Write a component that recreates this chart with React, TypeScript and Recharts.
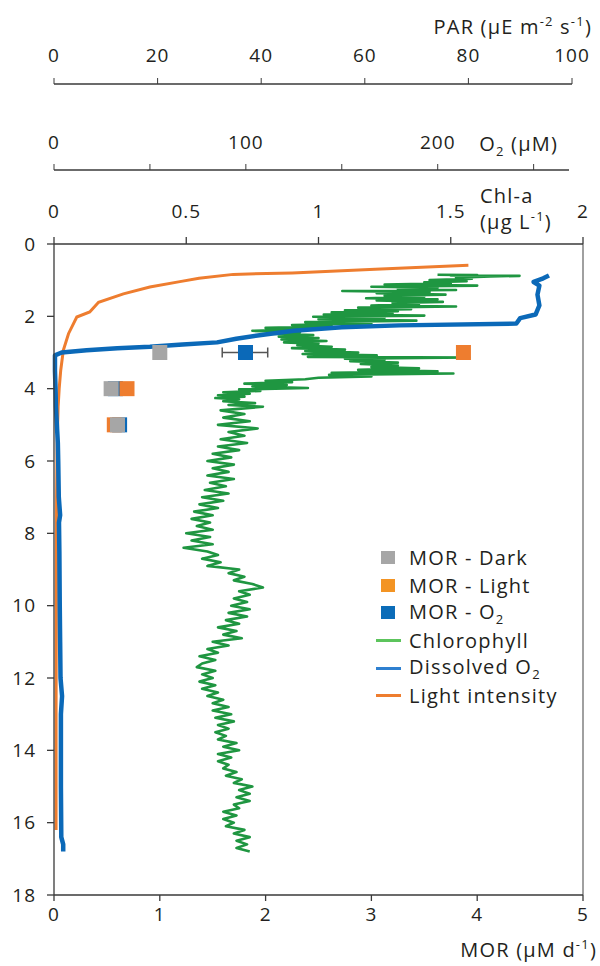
import React from 'react';
import {
  ComposedChart,
  ErrorBar,
  Legend,
  Line,
  ReferenceLine,
  Scatter,
  XAxis,
  YAxis,
} from 'recharts';

const FONT = '"Open Sans", "Noto Sans", sans-serif';
const INK = '#231f20';
const AXIS = '#3a3a3a';

const depthTicks = [0, 2, 4, 6, 8, 10, 12, 14, 16, 18];
const morTicks = [0, 1, 2, 3, 4, 5];
const parTicks = [0, 20, 40, 60, 80, 100];
const o2Ticks = [0, 50, 100, 150, 200, 250];
const o2Labelled = [0, 100, 200];
const chlTicks = [0, 0.5, 1, 1.5, 2];

// [depth (m), PAR]
const lightProfile: [number, number][] = [
  [0.59, 80], [0.7, 62], [0.8, 46], [0.84, 34.6], [0.95, 28], [1.04, 24.3],
  [1.19, 18.5], [1.38, 13.4], [1.61, 8.6], [1.88, 6.9], [2.02, 4.4], [2.48, 2.8],
  [2.94, 1.8], [3.49, 1.3], [4.0, 1.0], [4.5, 0.8], [5.5, 0.6], [7, 0.5],
  [10, 0.45], [13, 0.4], [16.2, 0.4],
];

// [depth (m), O2 (uM)]
const oxygenProfile: [number, number][] = [
  [0.87, 258], [0.95, 255], [1.05, 250], [1.15, 253], [1.4, 252], [1.7, 253],
  [1.95, 251], [2.05, 243], [2.2, 241], [2.25, 180], [2.3, 150], [2.4, 125],
  [2.5, 110], [2.62, 95], [2.72, 85], [2.78, 67], [2.84, 50], [2.88, 33],
  [2.94, 17], [3.0, 4], [3.08, 0.5], [3.5, 0.5], [4.0, 0.8], [4.5, 1.0],
  [5.0, 1.5], [5.5, 2.0], [6.0, 2.2], [7.0, 2.5], [7.5, 3.2], [7.7, 2.6],
  [8.5, 2.8], [10, 3.0], [11, 3.2], [12, 3.4], [12.5, 4.2], [13, 3.6],
  [14, 3.6], [15, 3.6], [16.4, 3.8], [16.6, 4.8], [16.8, 4.8],
];

// [depth (m), Chl-a (ug/L)]
const chlProfile: [number, number][] = [
  [0.85, 1.45], [0.86, 1.6], [0.87, 1.5], [0.88, 1.76], [0.9, 1.65], [0.93, 1.52],
  [0.96, 1.58], [1.0, 1.42], [1.03, 1.56], [1.06, 1.4], [1.09, 1.5], [1.12, 1.25],
  [1.15, 1.6], [1.18, 1.2], [1.21, 1.45], [1.24, 1.3], [1.27, 1.52], [1.3, 1.09],
  [1.33, 1.42], [1.36, 1.22], [1.4, 1.48], [1.43, 1.25], [1.46, 1.4], [1.5, 1.18],
  [1.53, 1.45], [1.56, 1.22], [1.6, 1.47], [1.63, 1.28], [1.66, 1.38], [1.7, 1.2],
  [1.73, 1.52], [1.76, 1.15], [1.8, 1.35], [1.83, 1.1], [1.86, 1.3], [1.89, 1.05],
  [1.92, 1.28], [1.95, 1.02], [1.98, 1.4], [2.01, 0.98], [2.04, 1.25], [2.08, 1.0],
  [2.12, 1.37], [2.16, 0.95], [2.2, 1.2], [2.24, 0.9], [2.28, 1.05], [2.32, 0.8],
  [2.36, 0.95], [2.4, 0.75], [2.44, 0.93], [2.48, 0.82], [2.52, 0.98], [2.56, 0.85],
  [2.6, 1.0], [2.64, 0.86], [2.68, 1.03], [2.72, 0.87], [2.76, 1.0], [2.8, 0.92],
  [2.84, 1.05], [2.88, 0.9], [2.92, 1.1], [2.96, 0.95], [3.0, 1.15], [3.04, 0.94],
  [3.08, 1.22], [3.12, 0.96], [3.14, 1.57], [3.17, 1.1], [3.2, 1.25], [3.24, 1.12],
  [3.28, 1.3], [3.32, 1.16], [3.36, 1.3], [3.4, 1.2], [3.44, 1.38], [3.48, 1.15],
  [3.52, 1.45], [3.56, 1.05], [3.58, 1.51], [3.62, 1.04], [3.66, 1.2], [3.7, 1.0],
  [3.74, 0.95], [3.78, 0.8], [3.82, 0.9], [3.86, 0.72], [3.9, 0.88], [3.94, 0.75],
  [3.98, 0.96], [4.02, 0.7], [4.06, 0.78], [4.1, 0.64], [4.14, 0.74], [4.18, 0.62],
  [4.22, 0.72], [4.26, 0.61], [4.3, 0.7], [4.35, 0.64], [4.4, 0.76], [4.45, 0.66],
  [4.5, 0.79], [4.6, 0.63], [4.7, 0.72], [4.8, 0.64], [4.9, 0.74], [5.0, 0.62],
  [5.1, 0.77], [5.2, 0.66], [5.3, 0.72], [5.4, 0.63], [5.5, 0.73], [5.6, 0.62],
  [5.7, 0.7], [5.8, 0.6], [5.9, 0.67], [6.0, 0.58], [6.1, 0.68], [6.2, 0.6],
  [6.3, 0.66], [6.4, 0.58], [6.5, 0.68], [6.6, 0.59], [6.7, 0.65], [6.8, 0.57],
  [6.9, 0.66], [7.0, 0.56], [7.1, 0.64], [7.2, 0.55], [7.3, 0.62], [7.4, 0.53],
  [7.5, 0.6], [7.6, 0.52], [7.7, 0.59], [7.8, 0.54], [7.9, 0.6], [8.0, 0.5],
  [8.1, 0.59], [8.2, 0.52], [8.3, 0.6], [8.4, 0.49], [8.5, 0.58], [8.6, 0.62],
  [8.7, 0.56], [8.8, 0.63], [8.9, 0.58], [9.0, 0.7], [9.1, 0.66], [9.2, 0.72],
  [9.3, 0.68], [9.4, 0.75], [9.5, 0.79], [9.6, 0.7], [9.7, 0.74], [9.8, 0.68],
  [9.9, 0.73], [10.0, 0.67], [10.1, 0.74], [10.2, 0.66], [10.3, 0.73], [10.4, 0.65],
  [10.5, 0.7], [10.6, 0.62], [10.7, 0.69], [10.8, 0.64], [10.9, 0.71], [11.0, 0.6],
  [11.1, 0.66], [11.2, 0.58], [11.3, 0.62], [11.4, 0.55], [11.5, 0.61], [11.6, 0.56],
  [11.7, 0.54], [11.8, 0.61], [11.9, 0.56], [12.0, 0.6], [12.1, 0.55], [12.2, 0.61],
  [12.3, 0.56], [12.4, 0.62], [12.5, 0.58], [12.6, 0.64], [12.7, 0.6], [12.8, 0.66],
  [12.9, 0.6], [13.0, 0.67], [13.1, 0.61], [13.2, 0.68], [13.3, 0.62], [13.4, 0.66],
  [13.5, 0.61], [13.6, 0.65], [13.7, 0.62], [13.8, 0.69], [13.9, 0.64], [14.0, 0.7],
  [14.1, 0.62], [14.2, 0.67], [14.3, 0.62], [14.4, 0.66], [14.5, 0.64], [14.6, 0.69],
  [14.7, 0.65], [14.8, 0.71], [14.9, 0.68], [15.0, 0.75], [15.1, 0.7], [15.2, 0.74],
  [15.3, 0.69], [15.4, 0.74], [15.5, 0.68], [15.6, 0.7], [15.7, 0.64], [15.8, 0.69],
  [15.9, 0.64], [16.0, 0.68], [16.1, 0.65], [16.2, 0.72], [16.3, 0.68], [16.4, 0.74],
  [16.5, 0.69], [16.6, 0.73], [16.7, 0.69], [16.8, 0.74],
];

// [depth (m), MOR (uM/d)]
const morDark: [number, number][] = [[3, 1.0], [4, 0.54], [5, 0.6]];
const morLight: [number, number][] = [[3, 3.87], [4, 0.69], [5, 0.57]];
const morO2: [number, number][] = [[3, 1.81], [4, 0.58], [5, 0.62]];
const morO2Err: [number, number][] = [[0.22, 0.21], [0, 0], [0, 0]];

const C = {
  chl: '#1f9641',
  o2: '#0b69b8',
  light: '#ee7d2f',
  dark: '#a6a6a6',
};

const legendRows = [
  { key: 'dark', label: 'MOR - Dark', color: '#a6a6a6', mark: 'square' },
  { key: 'light', label: 'MOR - Light', color: '#f39423', mark: 'square' },
  { key: 'o2', label: 'MOR - O', sub: '2', color: '#0b6cb8', mark: 'square' },
  { key: 'chl', label: 'Chlorophyll', color: '#5cc45c', mark: 'line' },
  { key: 'do', label: 'Dissolved O', sub: '2', color: '#2e80d0', mark: 'line' },
  { key: 'li', label: 'Light intensity', color: '#ee7d2f', mark: 'line' },
];

const tickStyle = { fontSize: 19, fill: INK, fontFamily: FONT, letterSpacing: 1 };
const titleStyle = { fontSize: 20, fill: INK, fontFamily: FONT, letterSpacing: 1.2 };

const square = (fill: string) => (props: any) => (
  <rect x={props.cx - 7.5} y={props.cy - 7.5} width={15} height={15} fill={fill} />
);

const box = (p: any) => p?.viewBox ?? { x: 0, y: 0, width: 0, height: 0 };

function ParTitle(props: any) {
  const { x, y, width, height } = box(props);
  return (
    <g>
      <line x1={x} x2={x + width - 11} y1={y + height} y2={y + height} stroke={AXIS} strokeWidth={1.3} />
      <text x={x + width + 9} y={y + 34} textAnchor="end" {...titleStyle}>
        PAR (µE m<tspan dy={-8} fontSize={13}>-2</tspan>
        <tspan dy={8}> s</tspan>
        <tspan dy={-8} fontSize={13}>-1</tspan>
        <tspan dy={8}>)</tspan>
      </text>
    </g>
  );
}

function O2Title(props: any) {
  const { x, y, width, height } = box(props);
  return (
    <g>
      <line x1={x} x2={x + width - 14} y1={y + height} y2={y + height} stroke={AXIS} strokeWidth={1.3} />
      <text x={x + width - 25} y={y + 67} textAnchor="end" {...titleStyle}>
        O<tspan dy={5} fontSize={13}>2</tspan>
        <tspan dy={-5}> (µM)</tspan>
      </text>
    </g>
  );
}

function ChlTitle(props: any) {
  const { x, y, width } = box(props);
  const left = x + width - 103;
  return (
    <g>
      <text x={left} y={y + 33} textAnchor="start" {...titleStyle}>Chl-a</text>
      <text x={left} y={y + 59} textAnchor="start" {...titleStyle}>
        (µg L<tspan dy={-8} fontSize={13}>-1</tspan>
        <tspan dy={8}>)</tspan>
      </text>
    </g>
  );
}

function MorTitle(props: any) {
  const { x, y, width } = box(props);
  return (
    <text x={x + width + 14} y={y + 62} textAnchor="end" {...titleStyle}>
      MOR (µM d<tspan dy={-8} fontSize={13}>-1</tspan>
      <tspan dy={8}>)</tspan>
    </text>
  );
}

function LegendBox() {
  return (
    <div style={{ fontFamily: FONT, fontSize: 20, letterSpacing: 1.2, color: INK }}>
      {legendRows.map((r) => (
        <div key={r.key} style={{ display: 'flex', alignItems: 'center', height: 27.6 }}>
          <div style={{ width: 28, display: 'flex', justifyContent: 'center', alignItems: 'center' }}>
            {r.mark === 'square' ? (
              <div style={{ width: 14, height: 13, background: r.color }} />
            ) : (
              <div style={{ width: 25, height: 3, background: r.color }} />
            )}
          </div>
          <div style={{ marginLeft: 7, whiteSpace: 'nowrap', lineHeight: '27px' }}>
            {r.label}
            {r.sub && (
              <span style={{ fontSize: 13, position: 'relative', top: 5 }}>{r.sub}</span>
            )}
          </div>
        </div>
      ))}
    </div>
  );
}

export default function App() {
  const light = lightProfile.map(([depth, par]) => ({ depth, par }));
  const oxygen = oxygenProfile.map(([depth, o2]) => ({ depth, o2 }));
  const chl = chlProfile.map(([depth, value]) => ({ depth, chl: value }));
  const dark = morDark.map(([depth, mor]) => ({ depth, mor }));
  const lit = morLight.map(([depth, mor]) => ({ depth, mor }));
  const o2Rate = morO2.map(([depth, mor], i) => ({ depth, mor, err: morO2Err[i] }));

  return (
    <div style={{ position: 'absolute', left: 0, top: 0, width: 600, height: 966, background: '#fff' }}>
      <ComposedChart
        width={600}
        height={966}
        layout="vertical"
        margin={{ top: 0, right: 17, bottom: 0, left: 0 }}
      >
        <XAxis
          xAxisId="chl"
          orientation="top"
          type="number"
          dataKey="chl"
          domain={[0, 2]}
          ticks={chlTicks}
          height={74}
          tickSize={7}
          tickMargin={19}
          tick={tickStyle}
          stroke={AXIS}
          strokeWidth={1.3}
          label={ChlTitle}
        />
        <XAxis
          xAxisId="o2"
          orientation="top"
          type="number"
          dataKey="o2"
          domain={[0, 270]}
          ticks={o2Ticks}
          tickFormatter={(v: number) => (o2Labelled.includes(v) ? String(v) : '')}
          padding={{ left: 0, right: 11 }}
          height={86}
          tickSize={6}
          tickMargin={15}
          tick={tickStyle}
          axisLine={false}
          stroke={AXIS}
          label={O2Title}
        />
        <XAxis
          xAxisId="par"
          orientation="top"
          type="number"
          dataKey="par"
          domain={[0, 100]}
          ticks={parTicks}
          padding={{ left: 0, right: 11 }}
          height={84}
          tickSize={6}
          tickMargin={16}
          tick={tickStyle}
          axisLine={false}
          stroke={AXIS}
          label={ParTitle}
        />
        <XAxis
          xAxisId="mor"
          orientation="bottom"
          type="number"
          dataKey="mor"
          domain={[0, 5]}
          ticks={morTicks}
          height={71}
          tickSize={6}
          tickMargin={7}
          tick={tickStyle}
          stroke={AXIS}
          strokeWidth={1.3}
          label={MorTitle}
        />
        {/* vertical layout already runs the y scale top-down, so depth 0 sits at the top */}
        <YAxis
          yAxisId="depth"
          type="number"
          dataKey="depth"
          domain={[0, 18]}
          ticks={depthTicks}
          width={54}
          tickSize={7}
          tickMargin={11}
          tick={tickStyle}
          stroke={AXIS}
          strokeWidth={1.3}
        />
        <ReferenceLine xAxisId="mor" yAxisId="depth" x={5} stroke="#808080" strokeWidth={1.5} />

        <Line
          xAxisId="chl"
          yAxisId="depth"
          data={chl}
          dataKey="chl"
          stroke={C.chl}
          strokeWidth={2.6}
          strokeLinejoin="round"
          dot={false}
          isAnimationActive={false}
        />
        <Line
          xAxisId="par"
          yAxisId="depth"
          data={light}
          dataKey="par"
          stroke={C.light}
          strokeWidth={3}
          dot={false}
          isAnimationActive={false}
        />
        <Line
          xAxisId="o2"
          yAxisId="depth"
          data={oxygen}
          dataKey="o2"
          stroke={C.o2}
          strokeWidth={4.5}
          strokeLinejoin="round"
          dot={false}
          isAnimationActive={false}
        />

        <Scatter xAxisId="mor" yAxisId="depth" data={o2Rate} shape={square(C.o2)} isAnimationActive={false}>
          <ErrorBar dataKey="err" direction="x" width={5} stroke="#555" strokeWidth={1.5} />
        </Scatter>
        <Scatter xAxisId="mor" yAxisId="depth" data={lit} shape={square(C.light)} isAnimationActive={false} />
        <Scatter xAxisId="mor" yAxisId="depth" data={dark} shape={square(C.dark)} isAnimationActive={false} />

        <Legend
          layout="vertical"
          align="center"
          verticalAlign="middle"
          wrapperStyle={{ left: 374, top: 544, width: 226 }}
          content={() => <LegendBox />}
        />
      </ComposedChart>
    </div>
  );
}
